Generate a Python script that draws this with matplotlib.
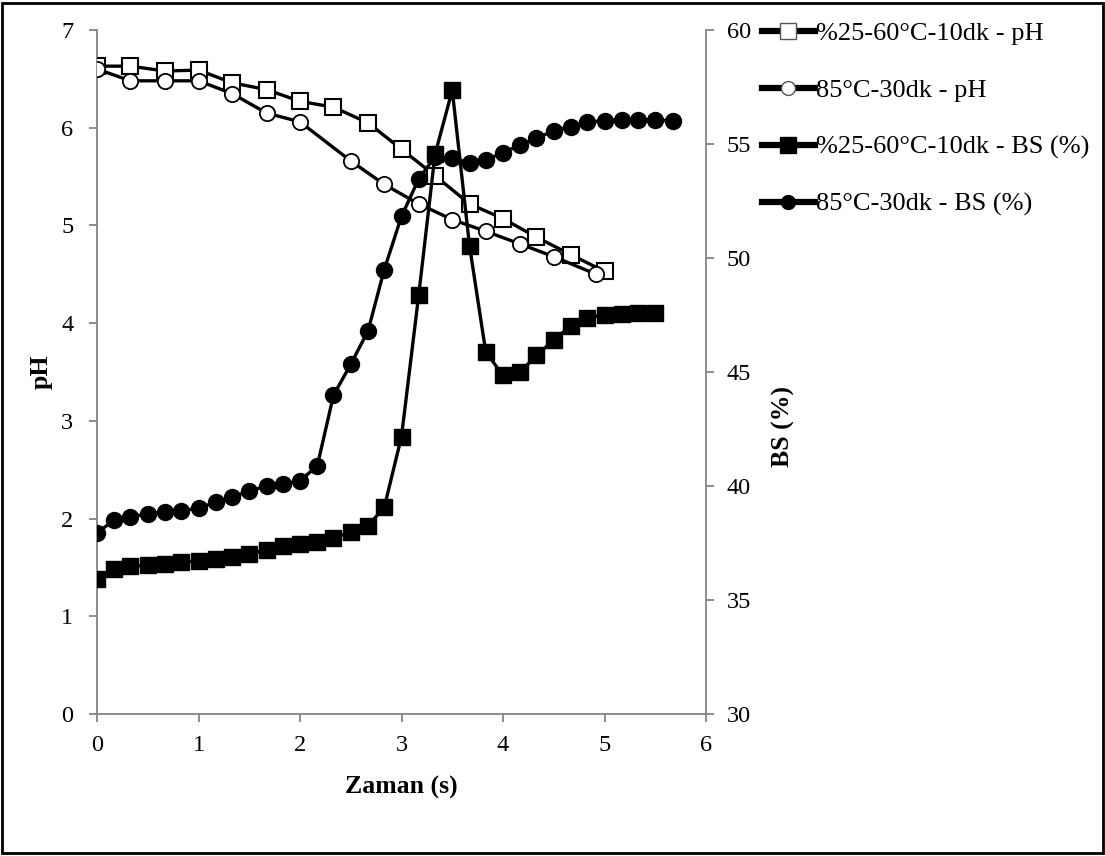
import matplotlib.pyplot as plt
from matplotlib.lines import Line2D
from matplotlib.patches import Rectangle

plt.rcParams['font.family'] = ['Liberation Serif', 'DejaVu Serif']

# time (saat) for the pH series
T_PH_A = [0, 0.33, 0.67, 1, 1.33, 1.67, 2, 2.33, 2.67, 3, 3.33, 3.67, 4, 4.33, 4.67, 5]
PH_A = [6.63, 6.63, 6.58, 6.59, 6.46, 6.39, 6.27, 6.21, 6.05, 5.78, 5.51, 5.22,
        5.07, 4.88, 4.70, 4.53]

T_PH_B = [0, 0.33, 0.67, 1, 1.33, 1.67, 2, 2.5, 2.83, 3.17, 3.5, 3.83, 4.17, 4.5, 4.92]
PH_B = [6.60, 6.48, 6.48, 6.48, 6.35, 6.15, 6.06, 5.66, 5.42, 5.22, 5.06, 4.94,
        4.81, 4.68, 4.50]

# time for the BS series (every 10 min)
T_BS_A = [0, 0.17, 0.33, 0.5, 0.67, 0.83, 1, 1.17, 1.33, 1.5, 1.67, 1.83, 2, 2.17,
          2.33, 2.5, 2.67, 2.83, 3, 3.17, 3.33, 3.5, 3.67, 3.83, 4, 4.17, 4.33,
          4.5, 4.67, 4.83, 5, 5.17, 5.33, 5.5]
BS_A = [35.92, 36.36, 36.47, 36.53, 36.58, 36.65, 36.72, 36.80, 36.87, 37.01,
        37.20, 37.35, 37.45, 37.55, 37.70, 37.99, 38.26, 39.06, 42.17, 48.39,
        54.54, 57.36, 50.54, 45.88, 44.85, 45.00, 45.73, 46.40, 47.03, 47.36,
        47.51, 47.55, 47.58, 47.58]

T_BS_B = [0, 0.17, 0.33, 0.5, 0.67, 0.83, 1, 1.17, 1.33, 1.5, 1.67, 1.83, 2, 2.17,
          2.33, 2.5, 2.67, 2.83, 3, 3.17, 3.33, 3.5, 3.67, 3.83, 4, 4.17, 4.33,
          4.5, 4.67, 4.83, 5, 5.17, 5.33, 5.5, 5.67]
BS_B = [37.93, 38.52, 38.66, 38.77, 38.84, 38.91, 39.03, 39.28, 39.50, 39.79,
        39.98, 40.08, 40.23, 40.88, 43.98, 45.34, 46.80, 49.49, 51.83, 53.47,
        54.44, 54.37, 54.18, 54.30, 54.62, 54.96, 55.25, 55.58, 55.76, 55.96,
        56.02, 56.05, 56.05, 56.05, 56.02]

LABELS = ['%25-60°C-10dk - pH', '85°C-30dk - pH',
          '%25-60°C-10dk - BS (%)', '85°C-30dk - BS (%)']

SPINE = '#858585'
FS = 17.5
FS_LAB = 18.5
FS_LEG = 19

fig = plt.figure(figsize=(11.05, 8.56), dpi=100)
ax = fig.add_axes([97 / 1105, 1 - 714 / 856, (706 - 97) / 1105, (714 - 30) / 856])
ax2 = ax.twinx()

lw = 2.4
ax.plot(T_PH_A, PH_A, color='black', lw=lw, marker='s', ms=12,
        mfc='white', mec='black', mew=1.5, zorder=3)
ax.plot(T_PH_B, PH_B, color='black', lw=lw, marker='o', ms=11,
        mfc='white', mec='black', mew=1.3, zorder=4)
ax2.plot(T_BS_A, BS_A, color='black', lw=lw, marker='s', ms=11.5,
         mfc='black', mec='black', zorder=3)
ax2.plot(T_BS_B, BS_B, color='black', lw=lw, marker='o', ms=11.5,
         mfc='black', mec='black', zorder=4)

ax.set_xlim(0, 6)
ax.set_ylim(0, 7)
ax2.set_ylim(30, 60)
ax.set_xticks(range(0, 7))
ax.set_yticks(range(0, 8))
ax2.set_yticks(range(30, 61, 5))

for a in (ax, ax2):
    a.spines['top'].set_visible(False)
    for s in ('left', 'right', 'bottom'):
        a.spines[s].set_color(SPINE)
        a.spines[s].set_linewidth(1.3)
    a.tick_params(direction='out', length=6, width=1.3, color=SPINE,
                  labelsize=FS)
ax.tick_params(axis='y', pad=11)
ax.tick_params(axis='x', pad=9)
ax2.tick_params(axis='y', pad=9)
ax.spines['right'].set_visible(False)
ax2.spines['left'].set_visible(False)
ax2.spines['bottom'].set_visible(False)

ax.set_xlabel('Zaman (s)', fontsize=FS_LAB, fontweight='bold')
ax.xaxis.set_label_coords(0.5, -0.09)
ax.set_ylabel('pH', fontsize=FS_LAB, fontweight='bold')
ax.yaxis.set_label_coords(-0.072, 0.5)
ax2.set_ylabel('BS (%)', fontsize=FS_LAB, fontweight='bold')
ax2.yaxis.set_label_coords(1.108, 0.42)

handles = [
    Line2D([], [], color='black', lw=4.5, marker='s', ms=11, mfc='white', mec='#555555', mew=1),
    Line2D([], [], color='black', lw=4.5, marker='o', ms=10, mfc='white', mec='#555555', mew=1),
    Line2D([], [], color='black', lw=4.5, marker='s', ms=11, mfc='black', mec='black'),
    Line2D([], [], color='black', lw=4.5, marker='o', ms=10, mfc='black', mec='black'),
]
fig.legend(handles, LABELS, loc='upper left', bbox_to_anchor=(762 / 1105, 1 - 22 / 856),
           frameon=False, fontsize=FS_LEG, handlelength=2.0, handletextpad=0.05,
           labelspacing=1.26, borderaxespad=0, borderpad=0)

fig.patches.append(Rectangle((0.002, 0.003), 0.996, 0.994, transform=fig.transFigure,
                             fill=False, edgecolor='black', lw=2))

fig.savefig('out.png', dpi=100)
